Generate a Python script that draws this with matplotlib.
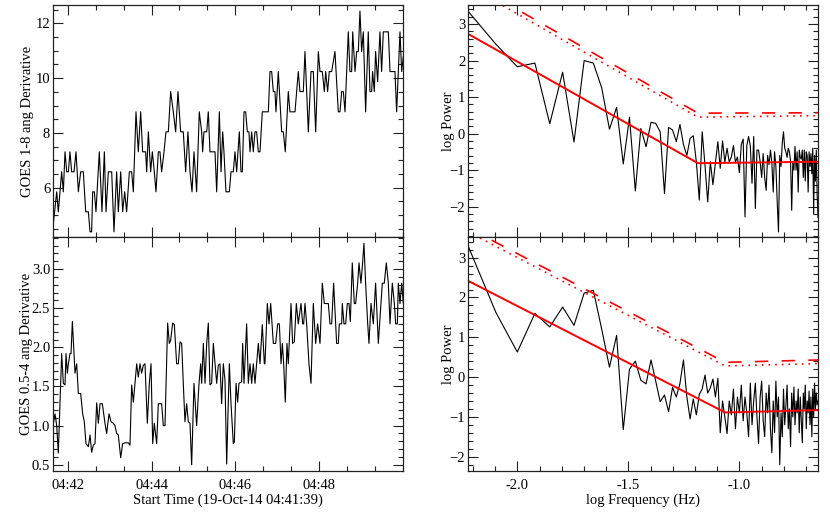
import numpy as np
import matplotlib
matplotlib.use("Agg")
import matplotlib.pyplot as plt
from matplotlib.ticker import MultipleLocator, FixedLocator, FormatStrFormatter

plt.rcParams['font.family'] = ['Liberation Serif', 'DejaVu Serif']

# ---------------- data ----------------
# time series: seconds since 19-Oct-14 04:41:39
t_long = [0, 5.3, 7.6, 10.0, 12.4, 14.8, 17.2, 19.6, 22.0, 24.3, 26.7, 30.1, 32.9, 36.3, 39.6, 43.4, 46.8, 50.6,
          53.0, 55.3, 56.8, 59.2, 61.5, 66.3, 70.1, 73.5, 75.9, 79.2, 84.0, 87.3, 91.1, 93.5, 96.9, 99.7, 102.6,
          105.4, 109.3, 112.6, 115.0, 118.8, 122.1, 125.5, 128.3, 132.6, 134.1, 136.5, 139.8, 142.2, 145.0, 147.4,
          150.8, 153.1, 155.5, 158.9, 161.7, 165.1, 168.4, 172.2, 175.6, 178.9, 182.7, 186.5, 189.9, 193.2, 196.1,
          199.0, 201.8, 205.6, 209.4, 212.8, 214.2, 216.1, 220.0, 222.3, 224.7, 228.5, 231.9, 234.3, 238.1, 240.5,
          242.9, 244.7, 247.6, 252.4, 254.8, 258.1, 260.5, 262.9, 266.7, 269.1, 271.0, 273.4, 275.8, 278.2, 280.5,
          282.0, 284.4, 286.7, 289.1, 291.5, 293.9, 296.3, 299.6, 303.4, 308.2, 310.6, 313.0, 315.4, 317.7, 319.2,
          322.5, 327.3, 329.7, 332.5, 336.8, 339.2, 346.4, 348.8, 351.1, 353.5, 358.3, 360.7, 365.5, 369.3, 372.6,
          376.0, 379.8, 382.2, 385.5, 388.4, 390.3, 393.1, 395.5, 398.9, 403.6, 408.4, 410.8, 413.2, 415.6, 418.0,
          422.7, 425.1, 427.5, 429.0, 432.3, 434.7, 437.0, 439.4, 441.8, 444.2, 447.5, 451.3, 453.7, 456.1, 457.5,
          459.9, 461.8, 464.7, 468.0, 470.4, 472.8, 480.0, 482.4, 489.5, 491.9, 494.3, 496.7, 499.1, 501.5]
goes_long = [4.57, 5.85, 5.12, 5.85, 6.58, 5.85, 7.31, 6.58, 6.58, 7.31, 6.58, 6.58, 7.31, 5.85, 6.58, 6.58, 5.12, 5.12,
             4.39, 4.39, 5.85, 5.85, 5.12, 7.31, 5.12, 7.31, 5.12, 6.58, 6.58, 4.39, 6.58, 5.12, 6.58, 5.12, 5.85,
             5.12, 6.58, 6.58, 5.85, 8.77, 7.31, 8.77, 7.31, 7.31, 6.58, 8.04, 6.58, 7.31, 6.58, 5.85,
             7.31, 7.31, 6.58, 7.31, 8.04, 8.04, 9.51, 8.77, 8.04, 9.51, 8.04, 8.04, 6.58, 8.04, 6.58,
             5.85, 7.31, 5.85, 8.77, 8.04, 7.31, 8.04, 8.04, 8.77, 7.31, 7.31, 7.31, 5.85, 8.77, 6.58,
             8.04, 7.31, 5.85, 5.85, 6.58, 6.58, 7.31, 6.58, 8.04, 6.58, 6.58, 8.77, 8.77, 8.04, 8.04,
             7.31, 8.04, 7.31, 8.04, 8.04, 7.31, 7.31, 8.77, 8.77, 8.77, 10.24, 10.24, 9.51, 9.51, 8.77,
             10.24, 8.04, 8.04, 7.31, 9.51, 8.77, 8.77, 9.51, 10.24, 9.51, 9.51, 10.97, 8.04, 10.24, 10.24,
             8.04, 10.97, 10.24, 10.24, 9.51, 10.24, 9.51, 10.24, 10.24, 10.97, 8.77, 8.77, 9.51, 9.51, 8.77,
             11.69, 10.24, 10.24, 11.69, 10.24, 10.97, 10.97, 12.45, 10.97, 11.69, 8.77, 11.69, 9.51, 9.51, 10.24,
             9.51, 10.97, 9.87, 11.69, 10.24, 11.69, 11.69, 10.24, 10.24, 8.77, 10.24, 11.69, 10.24, 10.8]

t_short = [0, 2.9, 5.3, 7.6, 12.4, 14.8, 17.2, 18.6, 20.5, 22.0, 24.3, 25.8, 27.7, 31.5, 33.9, 36.3, 39.6, 42.5,
           44.8, 47.2, 50.6, 53.0, 55.3, 57.7, 60.1, 62.5, 64.9, 67.3, 70.6, 74.4, 76.8, 80.2, 83.0, 86.4, 88.7,
           91.1, 93.5, 96.9, 99.7, 103.1, 107.8, 110.2, 112.6, 115.0, 117.4, 119.8, 122.1, 124.5, 126.9, 129.3,
           131.7, 135.0, 137.9, 140.3, 142.7, 145.0, 148.4, 150.8, 155.5, 157.9, 160.3, 164.1, 166.5, 168.4, 171.3,
           173.7, 177.0, 179.4, 181.8, 184.2, 186.5, 188.9, 191.3, 193.7, 196.1, 198.5, 201.8, 205.6, 209.0, 211.4,
           212.8, 215.2, 217.6, 220.0, 222.3, 224.7, 227.1, 229.5, 231.9, 234.3, 236.6, 239.0, 241.4, 243.8, 246.2,
           248.6, 252.4, 254.8, 258.1, 259.6, 262.0, 264.3, 266.2, 270.0, 271.5, 273.4, 277.2, 279.6, 282.0, 284.4,
           286.7, 289.1, 291.5, 293.9, 296.3, 299.6, 302.5, 303.4, 306.8, 309.2, 311.6, 315.4, 318.7, 321.6, 324.0,
           326.4, 328.3, 330.2, 332.5, 334.9, 336.8, 340.7, 343.0, 345.4, 348.3, 351.1, 355.0, 357.4, 358.8, 360.7,
           363.1, 366.4, 369.3, 372.6, 376.0, 378.8, 382.2, 385.5, 388.4, 394.1, 396.5, 398.9, 401.7, 406.0, 408.4,
           409.8, 413.2, 414.1, 416.5, 418.9, 421.3, 423.7, 425.6, 428.4, 431.3, 433.2, 436.1, 438.0, 440.8, 443.2,
           445.1, 447.5, 450.4, 452.3, 455.2, 458.5, 461.8, 465.7, 469.5, 471.4, 474.2, 477.1, 480.0, 482.4, 485.7,
           488.6, 490.5, 492.9, 494.3, 496.7, 499.1, 501.5]
goes_short = [1.00, 1.15, 1.00, 0.65, 1.92, 1.54, 1.52, 1.92, 1.67, 1.79, 1.92, 1.92, 2.33, 1.67, 1.79, 1.41, 1.41, 1.15,
              1.05, 0.77, 0.73, 0.88, 0.66, 0.75, 0.77, 1.29, 1.03, 1.28, 1.28, 1.03, 0.90, 1.15, 1.05, 1.03, 1.00,
              0.90, 0.88, 0.59, 0.77, 0.78, 0.78, 0.75, 1.52, 1.30, 1.54, 1.79, 1.62, 1.79, 1.67, 1.77,
              1.79, 1.03, 1.54, 1.79, 0.77, 1.03, 0.77, 1.28, 1.28, 1.00, 1.00, 2.31, 2.05, 2.09, 2.31,
              2.29, 1.79, 1.79, 2.07, 2.05, 1.54, 1.05, 1.28, 1.05, 1.03, 0.50, 1.54, 1.00, 1.54, 1.79,
              1.54, 2.05, 1.54, 2.05, 2.31, 1.52, 1.54, 2.05, 1.79, 1.54, 1.77, 1.79, 1.28, 1.79, 1.58,
              0.51, 1.79, 1.28, 0.77, 0.79, 1.54, 1.30, 1.54, 1.56, 2.05, 1.54, 2.30, 1.54, 1.79, 1.54,
              1.79, 1.54, 1.79, 2.05, 1.79, 2.29, 1.79, 1.79, 2.56, 2.30, 2.56, 2.05, 2.05, 2.30, 2.30,
              1.79, 2.05, 1.79, 1.30, 2.05, 1.79, 2.56, 2.05, 2.07, 2.56, 2.30, 2.56, 2.30, 2.30, 2.56,
              2.30, 1.79, 1.54, 2.56, 2.05, 2.30, 2.05, 2.82, 2.56, 2.56, 2.30, 2.30, 2.82, 2.05, 2.05,
              2.30, 2.30, 2.56, 2.30, 2.30, 2.56, 2.56, 2.33, 3.08, 2.56, 2.56, 2.82, 3.08, 2.82, 3.08,
              3.33, 2.82, 2.31, 2.05, 2.56, 2.30, 2.82, 2.05, 2.56, 2.82, 2.82, 3.08, 2.82, 2.30, 2.82,
              2.56, 2.30, 2.30, 2.82, 2.56, 2.82, 2.56]

time_tick_pos = [21, 141, 261, 381]
time_tick_labels = ['04:42', '04:44', '04:46', '04:48']

# power spectra: harmonic index k, frequency = k * 0.002 Hz
freq_index = list(range(3, 114))
logpow_long = [3.35, 2.45, 1.83, 1.93, 0.27, 1.68, -0.23, 2.0, 1.93, 1.25, 0.12, 0.72, -0.83, 0.45, -1.57, 0.14,
               -0.36, 0.31, 0.28, 0.05, -1.64, 0.17, 0.1, -0.22, 0.25, -0.3, -0.6, -0.13, -0.06, -0.77, -1.82,
               0.05, -0.86, -1.87, -0.77, -1.4, -0.8, -0.22, -0.95, -0.2, -0.78, -0.4, -0.78, -0.64, -0.33, -0.78,
               -0.64, -1.07, -0.3, -0.15, -2.28, -0.33, -0.08, -0.33, -1.36, -0.08, -2.05, -0.45, -0.45, -0.77,
               -1.2, -0.55, -1.2, -1.55, -0.6, -0.85, -0.45, -0.8, -1.6, -0.5, -0.9, -1.85, -2.69, -0.6, -0.9,
               -0.25, 0.05, -0.4, -0.5, -0.65, -0.4, -0.5, -0.75, -2.1, -0.8, -1.0, -0.35, -1.0, -0.5, -1.6,
               -0.45, -0.65, -0.7, -0.45, -1.2, -0.45, -1.3, -0.5, -0.6, -1.6, -0.5, -0.9, -0.55, -1.1, -0.4,
               -2.2, -0.6, -1.3, -0.45, -1.7, -2.3]
logpow_short = [3.3, 1.63, 0.63, 1.6, 1.26, 1.76, 1.3, 2.11, 2.18, 1.2, 0.25, 1.05, -1.32, 0.2, 0.4, -0.08,
                -0.17, 0.43, -0.1, -0.62, -0.45, -0.87, -0.26, -0.5, -0.16, 0.43, -0.5, -1.05, -0.55, -0.95,
                -0.43, -0.3, 0.05, -0.4, -0.27, -0.05, -0.5, -0.03, -1.4, -0.6, -1.0, -1.42, -0.6, -0.95, -0.3,
                -1.3, -0.5, -0.9, -0.2, -1.1, -0.5, -0.9, -1.5, -0.15, -1.2, -0.6, -0.15, -1.0, -1.67, -0.5,
                -0.1, -1.1, -1.5, -0.4, -0.9, -0.2, -1.3, -1.9, -0.6, -1.4, -0.1, -1.0, -0.5, -2.2, -0.9, -1.5,
                -0.3, -1.2, -0.7, -0.2, -1.3, -0.8, -1.75, -0.4, -1.0, -0.25, -1.2, -0.6, -0.9, -0.3, -1.4,
                -0.5, -1.1, -1.65, -0.4, -0.8, -0.2, -1.3, -0.6, -0.9, -0.35, -1.2, -0.5, -1.5, -0.3, -1.0,
                -0.15, -0.8, -0.4, -0.7, -0.6]

# broken power-law fit and confidence levels (knots in log frequency)
fit_logf_long = [-2.222, -1.187, -0.646]
fit_long = [2.73, -0.81, -0.77]
conf_a_long = [4.17, 0.56, 0.57]
conf_b_long = [4.05, 0.45, 0.49]

fit_logf_short = [-2.222, -1.064, -0.646]
fit_short = [2.42, -0.89, -0.83]
conf_a_short = [3.75, 0.37, 0.43]
conf_b_short = [3.65, 0.28, 0.34]

# ---------------- figure ----------------
fig = plt.figure(figsize=(8.30, 5.29), dpi=100)
W, H = 830.0, 529.0

def ax_at(x0, y0, x1, y1):
    return fig.add_axes([x0 / W, 1 - y1 / H, (x1 - x0) / W, (y1 - y0) / H])

axTL = ax_at(53, 5, 403, 237)
axBL = ax_at(53, 237, 403, 471)
axTR = ax_at(468, 5, 818, 237)
axBR = ax_at(468, 237, 818, 471)

TICK_FS = 10.5
LAB_FS = 10.5

for ax in (axTL, axBL, axTR, axBR):
    ax.tick_params(which='both', direction='in', top=True, right=True, labelsize=TICK_FS,
                   width=0.8, colors='#222222', labelcolor='black')
    ax.tick_params(axis='y', which='both', pad=2)
    ax.tick_params(axis='x', which='both', pad=6)
    ax.tick_params(which='major', length=7)
    ax.tick_params(which='minor', length=3.5)
    for s in ax.spines.values():
        s.set_linewidth(0.9)
        s.set_color('#222222')

# time series panels
minor_time = list(np.arange(21, 510, 40))
axTL.plot(t_long, goes_long, color='black', lw=0.8)
axTL.set_xlim(0, 501)
axTL.set_ylim(4.2, 12.67)
axTL.yaxis.set_major_locator(MultipleLocator(2))
axTL.yaxis.set_minor_locator(MultipleLocator(0.5))
axTL.set_ylabel('GOES 1-8 ang Derivative', fontsize=LAB_FS, labelpad=1)

axBL.plot(t_short, goes_short, color='black', lw=0.8)
axBL.set_xlim(0, 501)
axBL.set_ylim(0.42, 3.41)
axBL.yaxis.set_major_locator(MultipleLocator(0.5))
axBL.yaxis.set_minor_locator(MultipleLocator(0.1))
axBL.yaxis.set_major_formatter(FormatStrFormatter('%.1f'))
axBL.set_ylabel('GOES 0.5-4 ang Derivative', fontsize=LAB_FS, labelpad=-1)
axBL.set_xlabel('Start Time (19-Oct-14 04:41:39)', fontsize=LAB_FS, labelpad=1)

for ax in (axTL, axBL):
    ax.xaxis.set_major_locator(FixedLocator(time_tick_pos))
    ax.xaxis.set_minor_locator(FixedLocator(minor_time))
axBL.set_xticklabels(time_tick_labels)
axTL.set_xticklabels([])

# spectra panels
logf = np.log10(np.array(freq_index) * 0.002)
for ax, pw, fx, fit, ca, cb in ((axTR, logpow_long, fit_logf_long, fit_long, conf_a_long, conf_b_long),
                                (axBR, logpow_short, fit_logf_short, fit_short, conf_a_short, conf_b_short)):
    ax.plot(logf, pw, color='black', lw=0.8)
    ax.plot(fx, fit, color='red', lw=1.4)
    ax.plot(fx, ca, color='red', lw=1.2, linestyle=(0, (8, 8)))
    ax.plot(fx, cb, color='red', lw=1.2, linestyle=(0, (1, 3)))
    ax.set_xlim(-2.222, -0.646)
    ax.xaxis.set_major_locator(MultipleLocator(0.5))
    ax.xaxis.set_minor_locator(MultipleLocator(0.1))
    ax.xaxis.set_major_formatter(FormatStrFormatter('%.1f'))
    ax.yaxis.set_major_locator(MultipleLocator(1))
    ax.yaxis.set_minor_locator(MultipleLocator(0.2))
    ax.set_ylabel('log Power', fontsize=LAB_FS, labelpad=-4)

axTR.set_ylim(-2.83, 3.52)
axBR.set_ylim(-2.36, 3.52)
axTR.set_xticklabels([])
axBR.set_xlabel('log Frequency (Hz)', fontsize=LAB_FS, labelpad=1)

fig.savefig('out.png', dpi=100)
